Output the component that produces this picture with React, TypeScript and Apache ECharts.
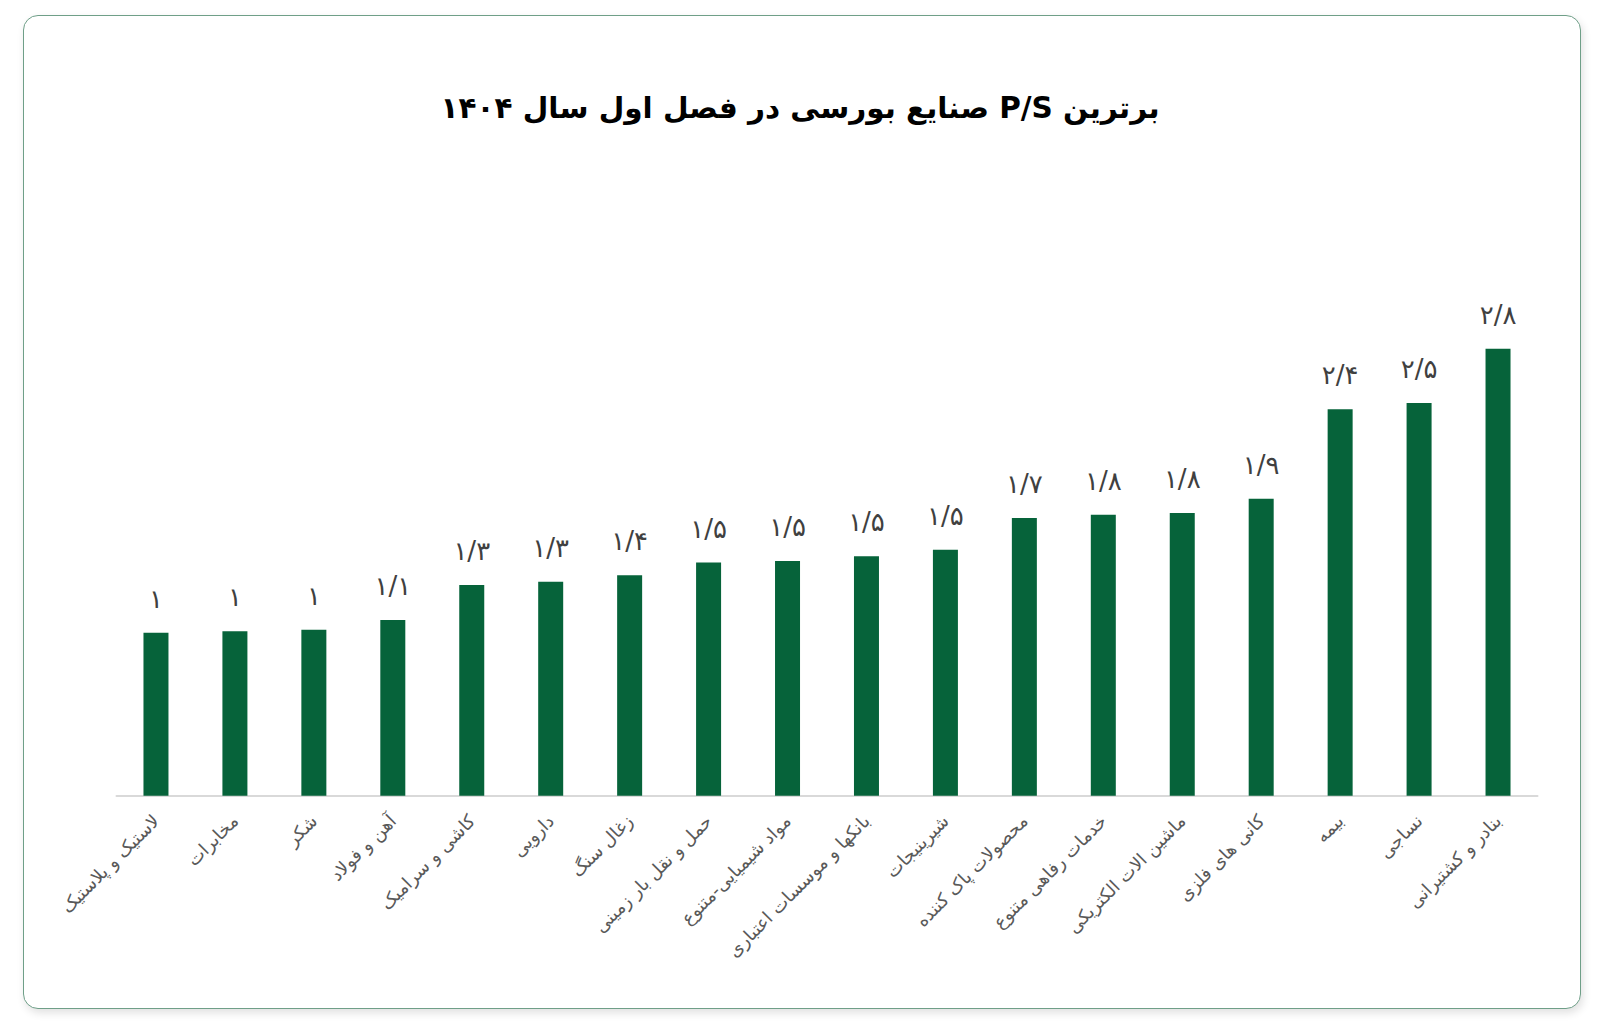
import React, { useEffect, useRef } from "react";
import * as echarts from "echarts";

const titleText = "برترین P/S صنایع بورسی در فصل اول سال ۱۴۰۴";

const categories = [
  "لاستیک و پلاستیک",
  "مخابرات",
  "شکر",
  "آهن و فولاد",
  "کاشی و سرامیک",
  "دارویی",
  "زغال سنگ",
  "حمل و نقل بار زمینی",
  "مواد شیمیایی-متنوع",
  "بانکها و موسسات اعتباری",
  "شیرینیجات",
  "محصولات پاک کننده",
  "خدمات رفاهی متنوع",
  "ماشین الات الکتریکی",
  "کانی های فلزی",
  "بیمه",
  "نساجی",
  "بنادر و کشتیرانی",
];

const psValues = [
  1.02, 1.03, 1.04, 1.1, 1.32, 1.34, 1.38, 1.46, 1.47, 1.5, 1.54, 1.74, 1.76,
  1.77, 1.86, 2.42, 2.46, 2.8,
];

const persianDigits = "۰۱۲۳۴۵۶۷۸۹";
const toPersian = (v: number) =>
  (Math.round(v * 10) / 10)
    .toString()
    .replace(/\d/g, (d) => persianDigits[Number(d)])
    .replace(".", "/");

const FONT = "'DejaVu Sans', 'Noto Sans', sans-serif";

export default function App() {
  const ref = useRef<HTMLDivElement>(null);

  useEffect(() => {
    if (!ref.current) return;
    const chart = echarts.init(ref.current, undefined, { renderer: "svg" });
    chart.setOption({
      animation: false,
      backgroundColor: "transparent",
      title: {
        text: "\u202B" + titleText + "\u202C",
        left: "center",
        top: 88,
        textStyle: {
          fontFamily: FONT,
          fontSize: 29.5,
          fontWeight: "bold",
          color: "#000000",
        },
      },
      grid: {
        left: 116.5,
        right: 62.5,
        top: 316.7,
        bottom: 232.3,
        containLabel: false,
      },
      xAxis: {
        type: "category",
        data: categories,
        axisLine: { lineStyle: { color: "#d9d9d9", width: 2 } },
        axisTick: { show: false },
        axisLabel: {
          interval: 0,
          rotate: 45,
          margin: 22,
          fontSize: 18,
          color: "#595959",
          fontFamily: FONT,
        },
      },
      yAxis: {
        type: "value",
        min: 0,
        max: 3,
        show: false,
        splitLine: { show: false },
      },
      series: [
        {
          type: "bar",
          data: psValues,
          barWidth: 25,
          itemStyle: { color: "#06633a" },
          label: {
            show: true,
            position: "top",
            distance: 21,
            fontSize: 26,
            color: "#404040",
            fontFamily: FONT,
            formatter: (p: any) => toPersian(p.value),
          },
        },
      ],
    });
    return () => chart.dispose();
  }, []);

  return (
    <div
      style={{
        position: "absolute",
        left: 0,
        top: 0,
        width: 1600,
        height: 1028,
        background: "#ffffff",
        overflow: "hidden",
      }}
    >
      <div
        style={{
          position: "absolute",
          left: 23,
          top: 15,
          width: 1558,
          height: 994,
          boxSizing: "border-box",
          border: "1.5px solid #6f9f88",
          borderRadius: 15,
          boxShadow: "2px 4px 8px rgba(0,0,0,0.12)",
          background: "#ffffff",
        }}
      />
      <div
        ref={ref}
        style={{ position: "absolute", left: 0, top: 0, width: 1600, height: 1028 }}
      />
    </div>
  );
}
